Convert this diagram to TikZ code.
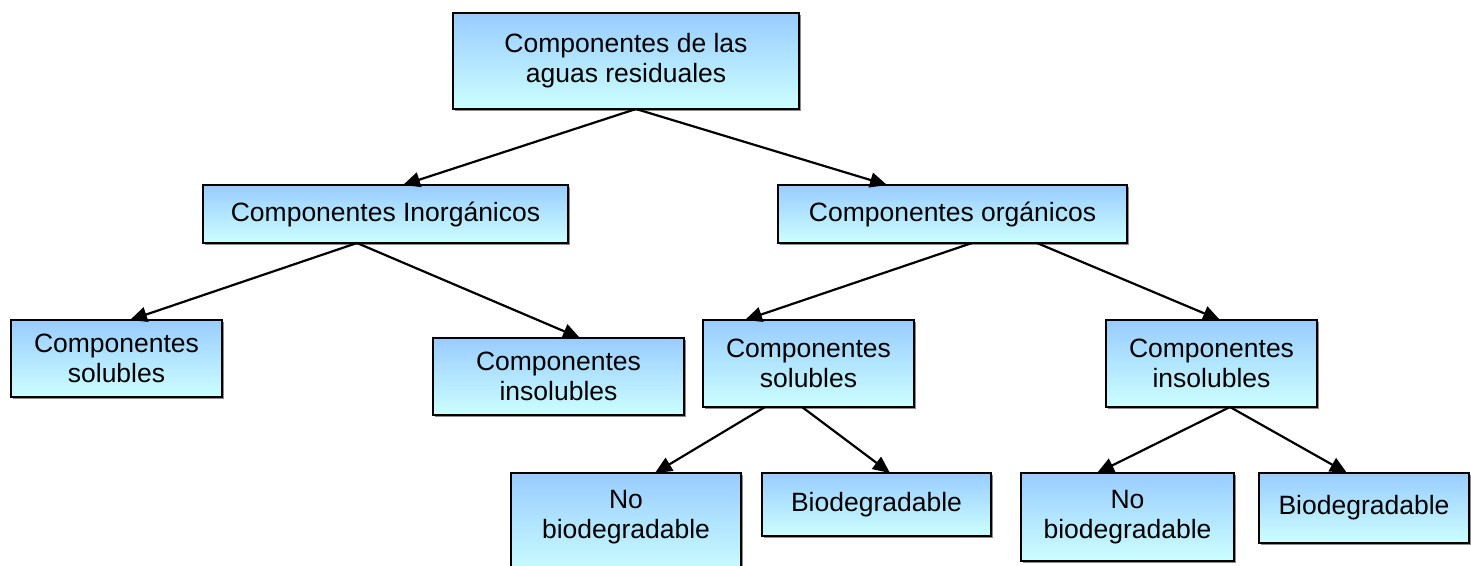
\documentclass[tikz,border=0pt]{standalone}
\usepackage{fontspec}
\setmainfont{Liberation Sans}
\usetikzlibrary{arrows.meta,shadows}
\definecolor{boxtop}{HTML}{99CCFF}
\definecolor{boxbot}{HTML}{CCFFFF}
\tikzset{
  box/.style={draw=black, line width=2pt, rectangle, outer sep=0pt, inner sep=2pt,
    top color=boxtop, bottom color=boxbot, align=center,
    font=\fontsize{26.5}{30}\selectfont,
    drop shadow={shadow xshift=2pt, shadow yshift=-2pt, fill=black!45, opacity=1}},
  conn/.style={line width=2.2pt, -{Triangle[length=17pt,width=15pt]}}
}
\begin{document}
\begin{tikzpicture}[x=1pt,y=-1pt]
\useasboundingbox (0,0) rectangle (1471,565);
\node[box, minimum width=346pt, minimum height=96pt] (top) at (626,61) {Componentes de las\\aguas residuales};
\node[box, minimum width=365pt, minimum height=58pt] (inorg) at (385.5,214) {Componentes Inorgánicos};
\node[box, minimum width=349pt, minimum height=58pt] (org) at (952.5,214) {Componentes orgánicos};
\node[box, minimum width=211pt, minimum height=77pt] (solL) at (116.5,358.5) {Componentes\\solubles};
\node[box, minimum width=251pt, minimum height=77pt] (insolL) at (558.5,376.5) {Componentes\\insolubles};
\node[box, minimum width=211pt, minimum height=87pt] (solO) at (808.5,363.5) {Componentes\\solubles};
\node[box, minimum width=211pt, minimum height=87pt] (insolO) at (1211.5,363.5) {Componentes\\insolubles};
\node[box, minimum width=230pt, minimum height=104pt, text depth=22pt] (nob1) at (626,525) {No\\biodegradable};
\node[box, minimum width=229pt, minimum height=63pt] (bio1) at (876.5,504.5) {Biodegradable};
\node[box, minimum width=213pt, minimum height=88pt] (nob2) at (1127.5,517) {No\\biodegradable};
\node[box, minimum width=210pt, minimum height=70pt] (bio2) at (1364,508) {Biodegradable};
\draw[conn] ([xshift=10pt]top.south) -- ([xshift=17.5pt]inorg.north);
\draw[conn] ([xshift=10pt]top.south) -- ([xshift=-65.5pt]org.north);
\draw[conn] ([xshift=-28.5pt]inorg.south) -- ([xshift=13.5pt]solL.north);
\draw[conn] ([xshift=-28.5pt]inorg.south) -- ([xshift=21.5pt]insolL.north);
\draw[conn] ([xshift=19.5pt]org.south) -- ([xshift=-63.5pt]solO.north);
\draw[conn] ([xshift=84.5pt]org.south) -- ([xshift=8.5pt]insolO.north);
\draw[conn] ([xshift=-43.5pt]solO.south) -- ([xshift=29pt]nob1.north);
\draw[conn] ([xshift=-6.5pt]solO.south) -- ([xshift=13.5pt]bio1.north);
\draw[conn] ([xshift=18.5pt]insolO.south) -- ([xshift=-30.5pt]nob2.north);
\draw[conn] ([xshift=18.5pt]insolO.south) -- ([xshift=-17pt]bio2.north);
\end{tikzpicture}
\end{document}
